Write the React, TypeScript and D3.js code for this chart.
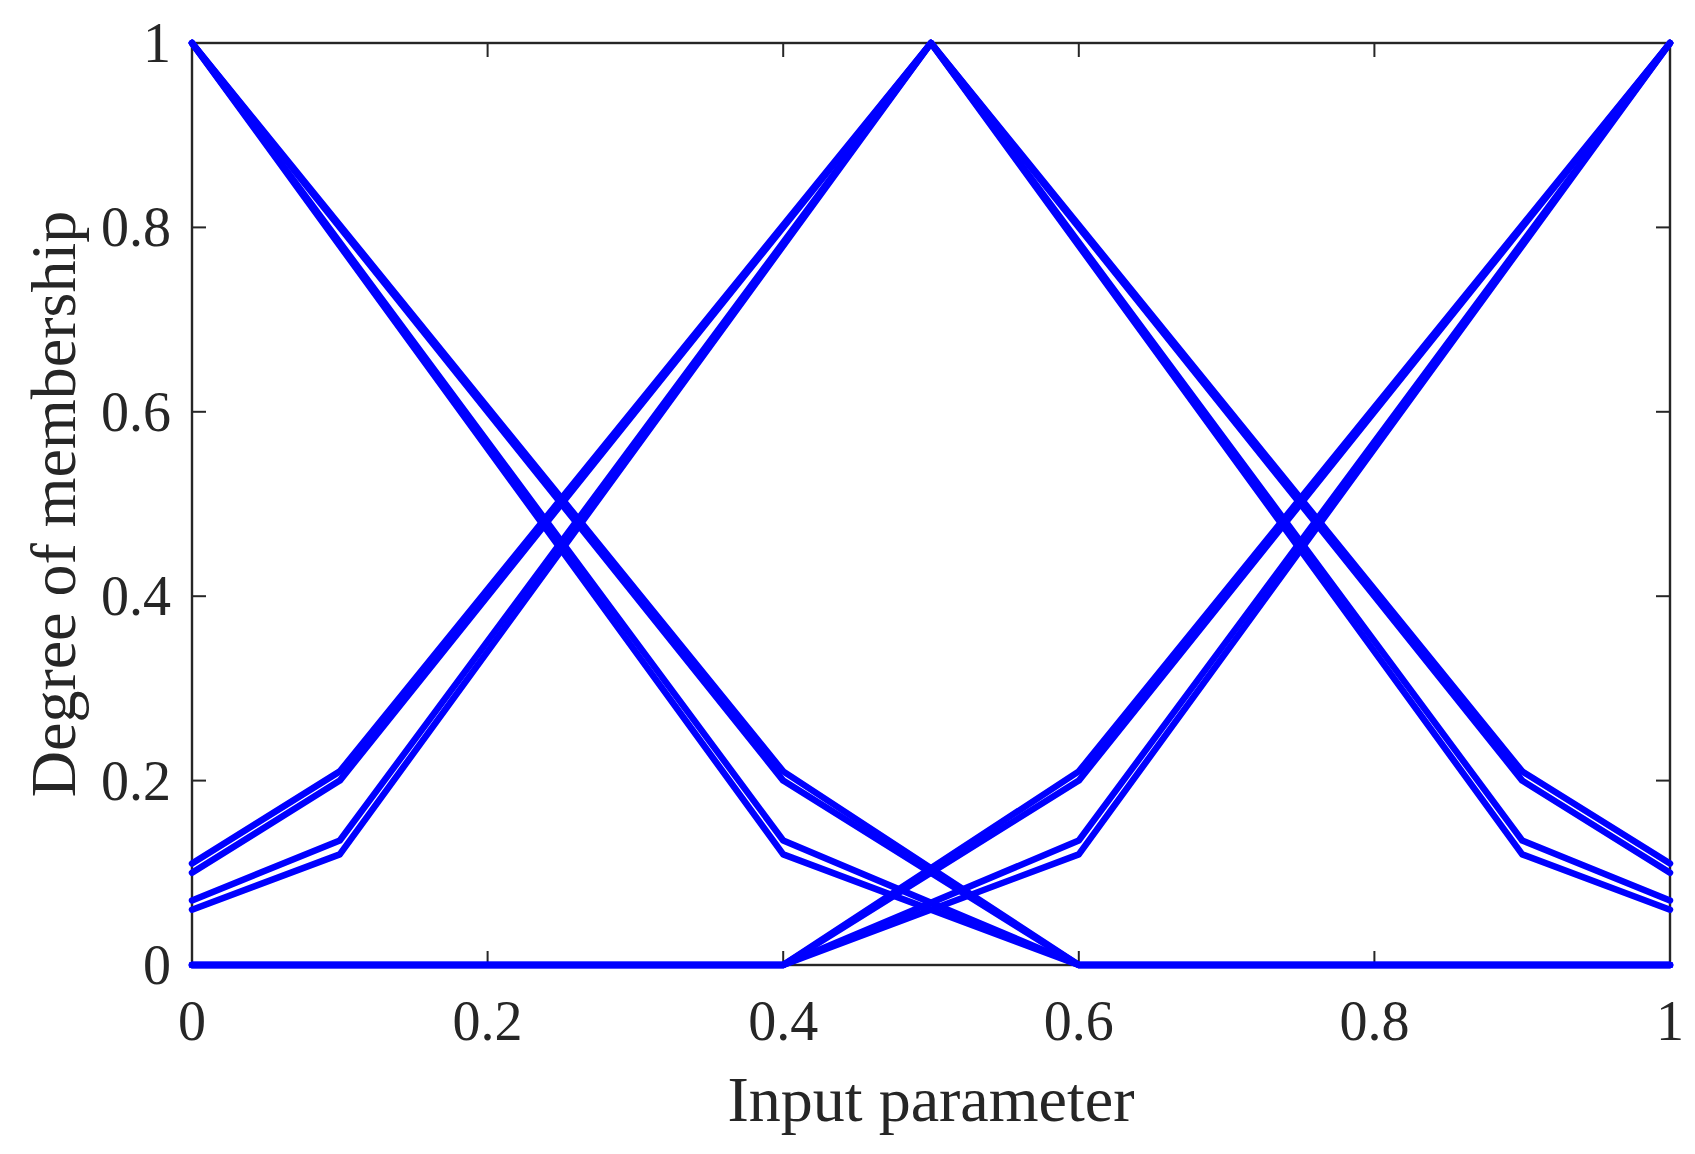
import React from "react";
import * as d3 from "d3";

// x positions of the breakpoints for each membership family
const xLow = [0, 0.4, 0.6, 1];
const xMed = [0, 0.1, 0.5, 0.9, 1];
const xHigh = [0, 0.4, 0.6, 1];

// "Low" membership variants
const lowA = [1, 0.21, 0, 0];
const lowB = [1, 0.2, 0, 0];
const lowC = [1, 0.135, 0, 0];
const lowD = [1, 0.12, 0, 0];

// "Medium" membership variants
const medA = [0.11, 0.21, 1, 0.21, 0.11];
const medB = [0.1, 0.2, 1, 0.2, 0.1];
const medC = [0.07, 0.135, 1, 0.135, 0.07];
const medD = [0.06, 0.12, 1, 0.12, 0.06];

// "High" membership variants
const highA = [0, 0, 0.21, 1];
const highB = [0, 0, 0.2, 1];
const highC = [0, 0, 0.135, 1];
const highD = [0, 0, 0.12, 1];

const xTicks = [0, 0.2, 0.4, 0.6, 0.8, 1];
const yTicks = [0, 0.2, 0.4, 0.6, 0.8, 1];
const xTickLabels = ["0", "0.2", "0.4", "0.6", "0.8", "1"];
const yTickLabels = ["0", "0.2", "0.4", "0.6", "0.8", "1"];

const xLabel = "Input parameter";
const yLabel = "Degree of membership";

const W = 1695;
const H = 1154;
const left = 192;
const right = 1670;
const top = 43;
const bottom = 965;
const tickLen = 14;
const axisColor = "#262626";
const lineColor = "#0000ff";
const font = "'Liberation Serif', 'Times New Roman', serif";

export default function App() {
  const x = d3.scaleLinear().domain([0, 1]).range([left, right]);
  const y = d3.scaleLinear().domain([0, 1]).range([bottom, top]);
  const line = d3
    .line<[number, number]>()
    .x((d) => x(d[0]))
    .y((d) => y(d[1]));

  const series: { xs: number[]; ys: number[] }[] = [
    { xs: xLow, ys: lowA },
    { xs: xLow, ys: lowB },
    { xs: xLow, ys: lowC },
    { xs: xLow, ys: lowD },
    { xs: xMed, ys: medA },
    { xs: xMed, ys: medB },
    { xs: xMed, ys: medC },
    { xs: xMed, ys: medD },
    { xs: xHigh, ys: highA },
    { xs: xHigh, ys: highB },
    { xs: xHigh, ys: highC },
    { xs: xHigh, ys: highD },
  ];

  return (
    <div style={{ position: "absolute", left: 0, top: 0 }}>
      <svg width={W} height={H} style={{ display: "block", background: "#fff" }}>
        <rect x={0} y={0} width={W} height={H} fill="#fff" />
        {/* frame */}
        <rect
          x={left}
          y={top}
          width={right - left}
          height={bottom - top}
          fill="none"
          stroke={axisColor}
          strokeWidth={2.4}
        />
        {/* ticks */}
        {xTicks.map((t, i) => (
          <g key={"xt" + i}>
            <line x1={x(t)} x2={x(t)} y1={bottom} y2={bottom - tickLen} stroke={axisColor} strokeWidth={2} />
            <line x1={x(t)} x2={x(t)} y1={top} y2={top + tickLen} stroke={axisColor} strokeWidth={2} />
            <text
              x={x(t)}
              y={1040}
              textAnchor="middle"
              fontFamily={font}
              fontSize={56}
              fill={axisColor}
            >
              {xTickLabels[i]}
            </text>
          </g>
        ))}
        {yTicks.map((t, i) => (
          <g key={"yt" + i}>
            <line x1={left} x2={left + tickLen} y1={y(t)} y2={y(t)} stroke={axisColor} strokeWidth={2} />
            <line x1={right} x2={right - tickLen} y1={y(t)} y2={y(t)} stroke={axisColor} strokeWidth={2} />
            <text
              x={171}
              y={y(t) + 19}
              textAnchor="end"
              fontFamily={font}
              fontSize={56}
              fill={axisColor}
            >
              {yTickLabels[i]}
            </text>
          </g>
        ))}
        {/* series */}
        {series.map((s, i) => (
          <path
            key={"s" + i}
            d={line(s.xs.map((xv, j) => [xv, s.ys[j]] as [number, number])) || ""}
            fill="none"
            stroke={lineColor}
            strokeWidth={6.5}
            strokeLinejoin="round"
            strokeLinecap="round"
          />
        ))}
        {/* labels */}
        <text
          x={(left + right) / 2}
          y={1121}
          textAnchor="middle"
          fontFamily={font}
          fontSize={64}
          fill={axisColor}
        >
          {xLabel}
        </text>
        <text
          transform={`translate(75, ${(top + bottom) / 2}) rotate(-90)`}
          textAnchor="middle"
          fontFamily={font}
          fontSize={64}
          fill={axisColor}
        >
          {yLabel}
        </text>
      </svg>
    </div>
  );
}
